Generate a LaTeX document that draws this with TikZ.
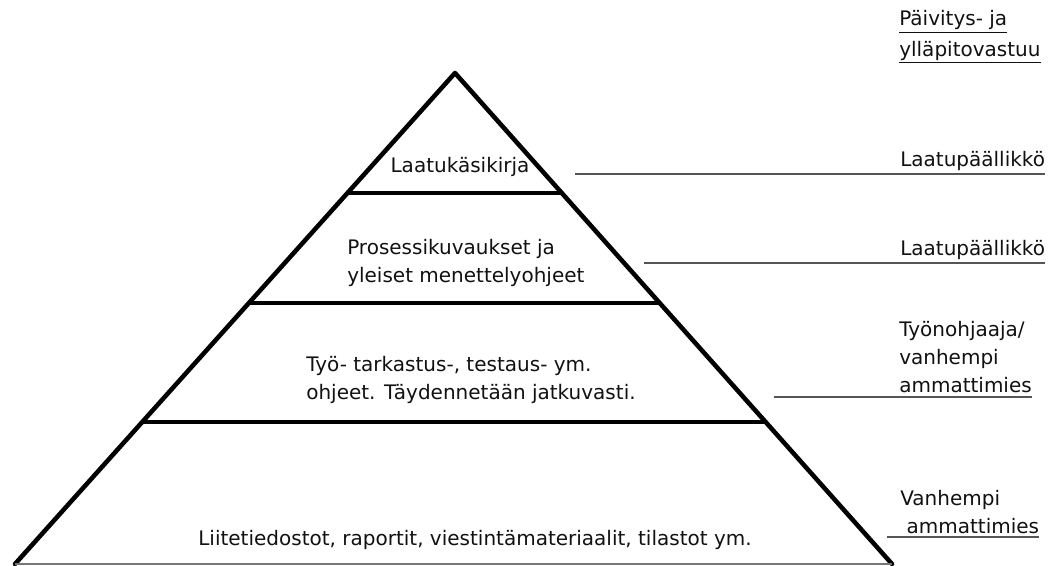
\documentclass[tikz,border=0pt]{standalone}
\usepackage{fontspec}
\setmainfont{DejaVu Sans}
\usetikzlibrary{positioning,calc}
\definecolor{ink}{HTML}{111111}
\definecolor{rule}{HTML}{555555}
\tikzset{
  every node/.style={font=\fontsize{15}{21}\selectfont,text=ink},
  side/.style={draw=black,line width=3.4pt,line join=round,line cap=round},
  layer/.style={draw=black,line width=3.6pt},
  base/.style={draw=rule!80,line width=1.2pt},
  tier/.style={align=left,inner sep=0pt},
  resp/.style={align=left,inner sep=0pt,anchor=south west},
  respline/.style={draw=rule,line width=1.1pt},
}

\begin{document}
\begin{tikzpicture}[x=0.75pt,y=-0.75pt]
\useasboundingbox (0,0) rectangle (1048,565);

% pyramid
\coordinate (apex) at (455,73);
\coordinate (bl) at (15,564);
\coordinate (br) at (892,564);
\draw[side] (bl) -- (apex) -- (br);
\draw[base] (bl) -- (br);

% layer lines
\draw[layer] ($(apex)!0.2444!(bl)$) -- ($(apex)!0.2444!(br)$);
\draw[layer] ($(apex)!0.4684!(bl)$) -- ($(apex)!0.4684!(br)$);
\draw[layer] ($(apex)!0.7108!(bl)$) -- ($(apex)!0.7108!(br)$);

% tiers
\node[tier] (manual) at (460,167) {Laatukäsikirja};
\node[tier,anchor=west] (process) at (347,263)
{Prosessikuvaukset ja\\yleiset menettelyohjeet};
\node[tier,anchor=west] (work) at (306,380)
{Työ- tarkastus-, testaus- ym.\\ohjeet. Täydennetään jatkuvasti.};
\node[tier] (attach) at (475,540)
{Liitetiedostot, raportit, viestintämateriaalit, tilastot ym.};

% responsibility column
\node[resp,anchor=west] (head) at (899,37)
{\underline{Päivitys- ja}\\[2pt]\underline{ylläpitovastuu}};
\node[resp] (r1) at (900,171) {Laatupäällikkö};
\node[resp] (r2) at (900,260) {Laatupäällikkö};
\node[resp] (r3) at (899,393) {Työnohjaaja/\\vanhempi\\ammattimies};
\node[resp] (r4) at (900,534) {Vanhempi\\\ ammattimies};

\coordinate (s1) at (575,174);
\coordinate (s2) at (644,263);
\coordinate (s3) at (774,397);
\coordinate (s4) at (887,537);
\draw[respline] (s1) -- (s1 -| r1.east);
\draw[respline] (s2) -- (s2 -| r2.east);
\draw[respline] (s3) -- (s3 -| r3.east);
\draw[respline] (s4) -- (s4 -| r4.east);

\end{tikzpicture}
\end{document}
